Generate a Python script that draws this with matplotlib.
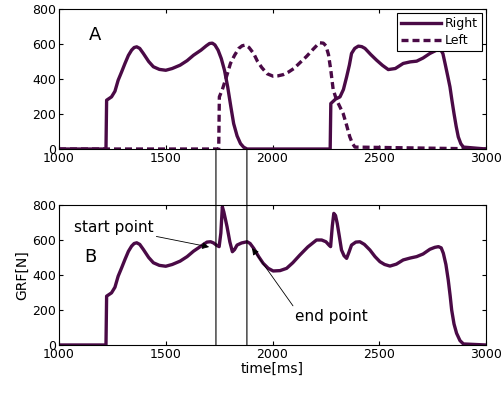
import matplotlib.pyplot as plt
from matplotlib.patches import ConnectionPatch

plt.rcParams['font.family'] = ['DejaVu Sans']
plt.rcParams['font.size'] = 9

LINE_COLOR = "#4a0a46"

# ── panel A: right foot ─────────────────────────────────────────────────────
right_t = [1000, 1220, 1223, 1246, 1262, 1277, 1293, 1309, 1325, 1340, 1352,
           1364, 1378, 1395, 1420, 1442, 1470, 1500, 1530, 1567, 1600, 1630,
           1665, 1690, 1705, 1718, 1730, 1745, 1760, 1775, 1790, 1805, 1818,
           1834, 1850, 1865, 1881, 2270, 2273, 2295, 2316, 2332, 2347, 2360,
           2370, 2385, 2402, 2418, 2433, 2460, 2487, 2515, 2542, 2575, 2612,
           2645, 2675, 2705, 2737, 2760, 2784, 2798, 2808, 2820, 2831, 2840,
           2850, 2860, 2870, 2882, 2894, 3000]
right_f = [0, 0, 279, 298, 330, 393, 440, 489, 535, 565, 580,
           584, 575, 546, 500, 470, 455, 450, 460, 479, 505, 536,
           565, 590, 603, 605, 595, 565, 517, 450, 355, 240, 145,
           75, 31, 10, 0, 0, 260, 285, 298, 340, 412, 480,
           546, 575, 588, 585, 575, 540, 508, 478, 454, 460, 489,
           498, 502, 520, 546, 560, 575, 545, 489, 420, 355, 280,
           202, 130, 69, 30, 11, 0]

# ── panel A: left foot ──────────────────────────────────────────────────────
left_t = [1000, 1748, 1751, 1765, 1779, 1791, 1803, 1822, 1842, 1858, 1873,
          1890, 1912, 1930, 1950, 1975, 2003, 2025, 2050, 2075, 2100, 2130,
          2160, 2190, 2210, 2222, 2238, 2250, 2262, 2273, 2284, 2300, 2316,
          2331, 2346, 2362, 2375, 2386, 3000]
left_f = [0, 0, 298, 340, 393, 440, 489, 535, 575, 590, 594,
          580, 545, 500, 465, 430, 416, 418, 425, 440, 460, 495,
          530, 570, 595, 607, 605, 590, 540, 450, 340, 280, 240,
          202, 140, 69, 30, 11, 0]

# ── panel B: combined GRF ───────────────────────────────────────────────────
grf_t = [1000, 1220, 1223, 1246, 1262, 1277, 1293, 1309, 1325, 1340, 1352,
         1364, 1378, 1395, 1420, 1442, 1470, 1500, 1530, 1567, 1600, 1630,
         1665, 1693, 1710, 1724, 1738, 1750, 1758, 1765, 1772, 1787, 1800,
         1812, 1822, 1834, 1855, 1881, 1895, 1912, 1935, 1956, 1980, 2003,
         2035, 2066, 2095, 2128, 2165, 2206, 2230, 2250, 2265, 2272, 2280,
         2287, 2295, 2303, 2313, 2323, 2335, 2347, 2358, 2370, 2390, 2409,
         2430, 2456, 2480, 2503, 2525, 2550, 2580, 2612, 2645, 2675, 2705,
         2737, 2760, 2777, 2790, 2800, 2812, 2823, 2832, 2839, 2850, 2862,
         2878, 2894, 3000]
grf_f = [0, 0, 279, 298, 330, 393, 440, 489, 535, 565, 580,
         584, 575, 546, 500, 470, 455, 450, 460, 479, 505, 536,
         565, 588, 590, 583, 570, 562, 640, 790, 760, 676, 590,
         533, 545, 571, 583, 590, 580, 552, 505, 467, 438, 423,
         425, 438, 470, 514, 560, 600, 600, 590, 570, 562, 680,
         752, 740, 695, 620, 543, 510, 495, 530, 571, 588, 590,
         575, 543, 505, 476, 460, 451, 462, 486, 497, 505, 520,
         547, 558, 562, 555, 524, 460, 371, 280, 200, 120, 67,
         25, 6, 0]

start_t = 1735
end_t = 1880

fig = plt.figure(figsize=(5.03, 3.94), dpi=100)
ax1 = fig.add_axes([0.1173, 0.6218, 0.849, 0.3553])
ax2 = fig.add_axes([0.1173, 0.1244, 0.849, 0.3553])

ax1.plot(right_t, right_f, color=LINE_COLOR, lw=2.4, label="Right")
ax1.plot(left_t, left_f, color=LINE_COLOR, lw=2.4, ls=(0, (2.1, 1.2)), label="Left")
ax2.plot(grf_t, grf_f, color=LINE_COLOR, lw=2.4)

for ax in (ax1, ax2):
    ax.set_xlim(1000, 3000)
    ax.set_ylim(0, 800)
    ax.set_xticks([1000, 1500, 2000, 2500, 3000])
    ax.set_yticks([0, 200, 400, 600, 800])
    ax.tick_params(direction="in", top=True, right=True, length=3,
                   width=0.8, labelsize=9, pad=2)
    for s in ax.spines.values():
        s.set_linewidth(0.8)

leg = ax1.legend(loc="upper right", fontsize=9, fancybox=False,
                 edgecolor="black", framealpha=1, handlelength=3.2,
                 borderaxespad=0.3, labelspacing=0.3, handletextpad=0.3,
                 borderpad=0.35)
leg.get_frame().set_linewidth(0.8)

ax1.text(1170, 650, "A", fontsize=13, ha="center", va="center")
ax2.text(1145, 500, "B", fontsize=13, ha="center", va="center")

ax2.set_ylabel("GRF[N]", fontsize=10, labelpad=2)
ax2.set_xlabel("time[ms]", fontsize=10, labelpad=1)

# vertical marker lines spanning both panels
for t in (start_t, end_t):
    con = ConnectionPatch(xyA=(t, 0), coordsA=ax1.transData,
                          xyB=(t, 0), coordsB=ax2.transData,
                          color="black", lw=0.8)
    fig.add_artist(con)

ax2.annotate("start point", xy=(1703, 560), xytext=(1070, 669),
             fontsize=11, va="center", ha="left",
             arrowprops=dict(arrowstyle="-|>", color="black", lw=0.6,
                             mutation_scale=10, shrinkA=0, shrinkB=0))
ax2.annotate("end point", xy=(1904, 554), xytext=(2105, 165),
             fontsize=11, va="center", ha="left",
             arrowprops=dict(arrowstyle="-|>", color="black", lw=0.6,
                             mutation_scale=10, shrinkA=0, shrinkB=0,
                             relpos=(0, 1)))

plt.savefig("out.png", dpi=100)
